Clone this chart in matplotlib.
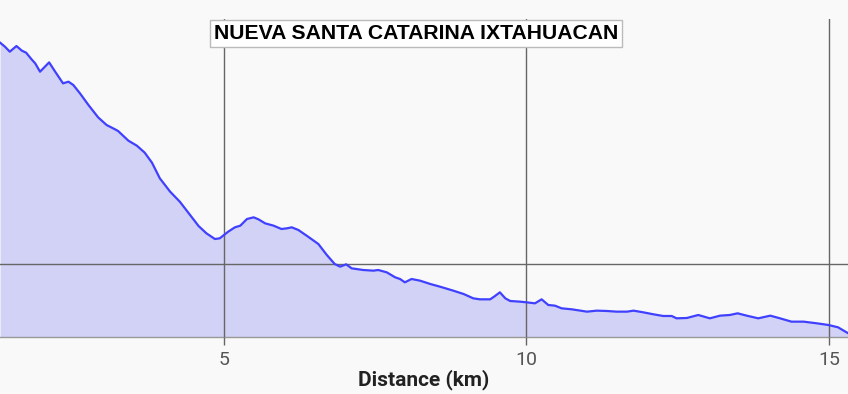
import matplotlib
matplotlib.use("Agg")
import matplotlib.pyplot as plt
from matplotlib.ticker import MultipleLocator

# elevation profile (distance km, elevation m)
distance_km = [
    1.30, 1.38, 1.46, 1.57, 1.66, 1.73, 1.82, 1.88, 1.96, 2.11,
    2.21, 2.34, 2.43, 2.51, 2.62, 2.76, 2.92, 3.06, 3.20, 3.25,
    3.42, 3.56, 3.69, 3.81, 3.94, 4.11, 4.27, 4.44, 4.58, 4.71,
    4.85, 4.93, 5.07, 5.18, 5.27, 5.38, 5.49, 5.57, 5.68, 5.82,
    5.95, 6.04, 6.12, 6.23, 6.39, 6.56, 6.70, 6.83, 6.92, 7.02,
    7.11, 7.30, 7.47, 7.55, 7.69, 7.83, 7.91, 7.99, 8.10, 8.24,
    8.41, 8.57, 8.79, 8.96, 9.12, 9.23, 9.40, 9.48, 9.56, 9.65,
    9.73, 9.89, 10.00, 10.14, 10.25, 10.36, 10.47, 10.58, 10.75, 11.00,
    11.16, 11.33, 11.49, 11.66, 11.77, 11.93, 12.10, 12.26, 12.40, 12.48,
    12.65, 12.84, 13.03, 13.20, 13.36, 13.49, 13.64, 13.83, 14.03, 14.19,
    14.38, 14.58, 14.80, 14.99, 15.15, 15.29, 15.31,
]
elevation_m = [
    2664, 2652, 2637, 2654, 2640, 2634, 2614, 2602, 2577, 2605,
    2577, 2542, 2547, 2537, 2512, 2477, 2440, 2417, 2404, 2399,
    2370, 2355, 2334, 2304, 2257, 2217, 2187, 2147, 2114, 2092,
    2075, 2077, 2097, 2110, 2115, 2135, 2140, 2134, 2122, 2115,
    2105, 2107, 2110, 2102, 2082, 2060, 2027, 2000, 1992, 1999,
    1987, 1982, 1980, 1982, 1975, 1960, 1955, 1945, 1955, 1950,
    1940, 1932, 1920, 1910, 1897, 1894, 1894, 1904, 1915, 1897,
    1889, 1887, 1885, 1882, 1894, 1877, 1875, 1867, 1864, 1857,
    1860, 1859, 1857, 1857, 1860, 1855, 1849, 1844, 1844, 1837,
    1838, 1847, 1837, 1845, 1847, 1852, 1845, 1837, 1845, 1837,
    1827, 1827, 1822, 1817, 1810, 1795, 1793,
]
x_ticks = [5, 10, 15]
y_min, y_max = 1781, 2735
title = "NUEVA SANTA CATARINA IXTAHUACAN"

bg = "#f9f9f9"
fig = plt.figure(figsize=(8.48, 3.94), dpi=100, facecolor=bg)
ax = fig.add_axes([0.0, 0.1447, 1.0, 0.807], facecolor=bg)

ax.fill_between(distance_km, elevation_m, y_min, color="#d2d2f6", lw=0, zorder=1)
ax.plot(distance_km, elevation_m, color="#4040ff", lw=1.6, zorder=3,
        solid_joinstyle="round")

ax.set_xlim(1.298, 15.314)
ax.set_ylim(y_min, y_max)
ax.set_xticks(x_ticks)
ax.yaxis.set_major_locator(MultipleLocator(1000))
ax.set_yticklabels([])
ax.tick_params(axis="y", length=0)
ax.tick_params(axis="x", length=6, width=1, color="#666666",
               labelsize=14, labelcolor="#555555", pad=4)
for lbl in ax.get_xticklabels():
    lbl.set_fontfamily("Roboto")

ax.grid(True, color="#666666", lw=1, zorder=2)
ax.set_axisbelow(False)
for side in ["top", "left", "right"]:
    ax.spines[side].set_visible(False)
ax.spines["bottom"].set_color("#999999")
ax.spines["bottom"].set_linewidth(1)

ax.set_xlabel("Distance (km)", fontsize=15, fontweight="bold",
              color="#222222", family="Roboto", labelpad=0)

fig.text(0.491, 0.9145, title, ha="center", va="center", fontsize=15.2,
         fontweight="bold", family="Liberation Sans", color="black",
         bbox=dict(boxstyle="square,pad=0.18", fc="white", ec="#bbbbbb", lw=1))

fig.savefig("out.png", dpi=100, facecolor=bg)
